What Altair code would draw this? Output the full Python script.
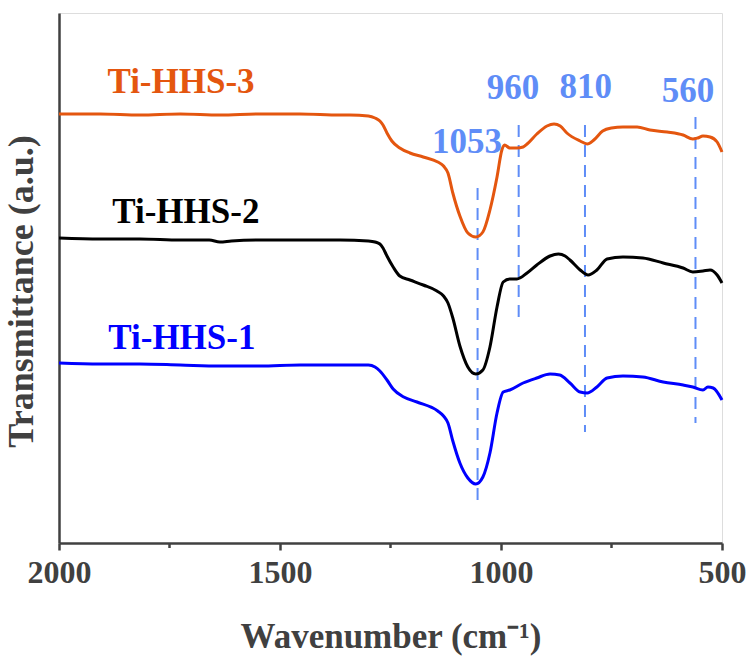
import altair as alt
import pandas as pd

# ---- data (wavenumber in cm-1, transmittance in arbitrary units) ----
wn_3 = [2000, 1907, 1817, 1726, 1636, 1545, 1455, 1364, 1342, 1300, 1285, 1274, 1267, 1258, 1247,
        1229, 1206, 1176, 1143, 1130, 1120, 1109, 1093, 1075, 1057, 1041, 1025, 1009, 998,
        992, 980, 964, 950, 941, 919, 896, 880, 866, 851, 821, 805, 790, 770, 750, 724, 692,
        663, 624, 588, 566, 555, 543, 527, 511, 500]
t_3 = [429, 429, 428, 429, 428, 429, 429, 428, 428, 427, 425, 422, 418, 410, 402,
       395, 390, 386, 381, 377, 370, 350, 327, 310, 306, 311, 333, 366, 393,
       398, 395, 395, 396, 399, 409, 417, 419, 417, 410, 402, 399, 403, 412, 415, 416, 416,
       413, 411, 408, 404, 405, 407, 406, 401, 391]

wn_2 = [2000, 1907, 1817, 1726, 1660, 1636, 1610, 1545, 1455, 1364, 1300, 1285, 1274, 1267, 1258,
        1244, 1229, 1206, 1176, 1145, 1130, 1120, 1109, 1093, 1075, 1057, 1041, 1025, 1009, 995,
        980, 964, 941, 919, 889, 870, 855, 844, 821, 803, 783, 760, 724, 679, 633, 588, 566,
        543, 527, 511, 500]
t_2 = [305, 304, 304, 303, 303, 301, 302, 303, 303, 303, 302, 301, 299, 295, 287,
       276, 267, 263, 258, 252, 247, 240, 225, 197, 176, 169, 173, 196, 236, 261,
       264, 264, 270, 278, 287, 289, 287, 283, 273, 268, 273, 284, 286, 285, 280, 275, 271,
       272, 273, 268, 260]

wn_1 = [2000, 1907, 1817, 1726, 1636, 1545, 1455, 1364, 1300, 1285, 1274, 1258, 1244, 1220, 1190, 1143,
        1130, 1120, 1109, 1093, 1075, 1057, 1041, 1025, 1009, 995, 980, 950, 919, 889, 867, 844,
        821, 805, 783, 760, 724, 679, 633, 588, 566, 543, 532, 520, 500]
t_1 = [180, 179, 179, 178, 177, 177, 178, 178, 178, 176, 172, 163, 154, 146, 141, 132,
       127, 120, 102, 80, 65, 59, 66, 90, 130, 151, 153, 160, 165, 169, 168, 160,
       151, 150, 156, 165, 167, 166, 161, 158, 156, 153, 156, 155, 143]

series_names = ["Ti-HHS-3", "Ti-HHS-2", "Ti-HHS-1"]
series_colors = ["#E4560F", "#000000", "#0000FF"]

# sample labels
label_wn = [1724, 1713, 1722]
label_t = [450, 320, 194]

# peak markers
peak_wn = [1053, 960, 810, 560]
peak_text = ["1053", "960", "810", "560"]
peak_text_wn = [1077, 973, 808, 577]
peak_text_t = [390, 444, 445, 441]
peak_top = [355, 418, 418, 426]
peak_bottom = [43, 223, 111, 120]

major_ticks = [2000, 1500, 1000, 500]
minor_ticks = [1750, 1250, 750]

# ---- build tables ----
rows = []
for name, wn, t in zip(series_names, [wn_3, wn_2, wn_1], [t_3, t_2, t_1]):
    for w, v in zip(wn, t):
        rows.append({"series": name, "wn": w, "t": v})
spec_df = pd.DataFrame(rows)

lab_df = pd.DataFrame({"series": series_names, "wn": label_wn, "t": label_t})
peak_df = pd.DataFrame({"wn": peak_wn, "top": peak_top, "bottom": peak_bottom})
peak_lab_df = pd.DataFrame({"wn": peak_text_wn, "t": peak_text_t, "txt": peak_text})
minor_df = pd.DataFrame({"wn": minor_ticks})

FONT = "Times New Roman, Liberation Serif, serif"
AX = "#404040"
PEAKC = "#5F8DF7"

xscale = alt.Scale(domain=[500, 2000], reverse=True, nice=False, zero=False)
yscale = alt.Scale(domain=[0, 530], nice=False, zero=False)
cscale = alt.Scale(domain=series_names, range=series_colors)

xaxis = alt.Axis(values=major_ticks, format="d", title="Wavenumber (cm⁻¹)",
                 titleFont=FONT, titleFontSize=35, titleFontWeight="bold", titleColor=AX,
                 titleY=104, titleBaseline="alphabetic",
                 labelFont=FONT, labelFontSize=32, labelFontWeight="bold", labelColor=AX,
                 labelFlush=False, labelPadding=32, labelBaseline="alphabetic",
                 tickSize=7, tickWidth=2.5, tickColor=AX,
                 domainColor=AX, domainWidth=2.5, grid=False)
yaxis = alt.Axis(title="Transmittance (a.u.)", labels=False, ticks=False, grid=False,
                 titleFont=FONT, titleFontSize=36, titleFontWeight="bold", titleColor=AX,
                 titlePadding=19, titleY=278, domainColor=AX, domainWidth=2.5)

lines = alt.Chart(spec_df).mark_line(strokeWidth=3, interpolate="monotone").encode(
    x=alt.X("wn:Q", scale=xscale, axis=xaxis),
    y=alt.Y("t:Q", scale=yscale, axis=yaxis),
    color=alt.Color("series:N", scale=cscale, legend=None),
    detail="series:N",
)

rules = alt.Chart(peak_df).mark_rule(color=PEAKC, strokeWidth=2, strokeDash=[12, 8]).encode(
    x=alt.X("wn:Q", scale=xscale),
    y=alt.Y("top:Q", scale=yscale),
    y2="bottom:Q",
)

labels = alt.Chart(lab_df).mark_text(font=FONT, fontSize=35, fontWeight="bold",
                                     align="center", baseline="alphabetic").encode(
    x=alt.X("wn:Q", scale=xscale),
    y=alt.Y("t:Q", scale=yscale),
    text="series:N",
    color=alt.Color("series:N", scale=cscale, legend=None),
)

peak_labels = alt.Chart(peak_lab_df).mark_text(font=FONT, fontSize=35, fontWeight="bold",
                                               align="center", baseline="alphabetic",
                                               color=PEAKC).encode(
    x=alt.X("wn:Q", scale=xscale),
    y=alt.Y("t:Q", scale=yscale),
    text="txt:N",
)

minor = alt.Chart(minor_df).mark_rule(color=AX, strokeWidth=2.5).encode(
    x=alt.X("wn:Q", scale=xscale),
    y=alt.value(530),
    y2=alt.value(535),
)

chart = alt.layer(rules, lines, labels, peak_labels, minor).properties(
    width=663, height=530,
    autosize=alt.AutoSizeParams(type="none"),
    padding={"left": 59, "top": 13, "right": 30, "bottom": 114},
).configure_view(stroke=AX, strokeWidth=2.5).configure(background="white")

chart.save("out.html", embed_options={"renderer": "svg", "actions": False})
